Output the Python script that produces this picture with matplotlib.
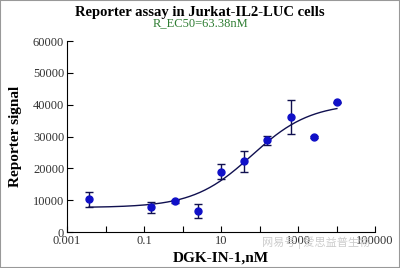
import numpy as np
import matplotlib
matplotlib.use("Agg")
import matplotlib.pyplot as plt

# Data
conc = [0.0037, 0.156, 0.625, 2.5, 10, 40, 160, 640, 2560, 10240]
signal = [10300, 7800, 9700, 6500, 19000, 22300, 28800, 36200, 29800, 40700]
err = [2400, 1700, 500, 2200, 2300, 3300, 1500, 5300, 300, 300]

# 4PL fit parameters
bottom, top, ec50, hill = 7700, 40500, 63.38, 0.57

plt.rcParams["font.family"] = ["Liberation Serif", "DejaVu Serif"]

fig = plt.figure(figsize=(4, 2.68), dpi=100)
ax = fig.add_axes([0.1675, 0.134, 0.77, 0.713])

xs = np.logspace(np.log10(conc[0]), np.log10(conc[-1]), 200)
fit = bottom + (top - bottom) / (1 + (ec50 / xs) ** hill)
ax.plot(xs, fit, color="#101050", lw=1)

ax.errorbar(conc, signal, yerr=err, fmt="o", color="#1010c8", ms=5,
            ecolor="#101050", elinewidth=1, capsize=3, capthick=1)

ax.set_xscale("log")
ax.set_xlim(0.001, 100000)
ax.set_ylim(0, 60000)
ax.set_xticks([1e-3, 1e-1, 1e1, 1e3, 1e5])
ax.set_xticklabels(["0.001", "0.1", "10", "1000", "100000"])
ax.set_xticks([1e-2, 1e0, 1e2, 1e4], minor=True)
ax.xaxis.set_minor_formatter(matplotlib.ticker.NullFormatter())
ax.set_yticks(range(0, 60001, 10000))
ax.tick_params(which="both", direction="in", length=4, width=0.8, labelsize=9, pad=2,
               labelcolor="#333333")
for side in ["top", "right"]:
    ax.spines[side].set_visible(False)

ax.set_xlabel("DGK-IN-1,nM", fontsize=11, fontweight="bold", labelpad=3)
ax.set_ylabel("Reporter signal", fontsize=11, fontweight="bold", labelpad=8)

fig.text(0.5, 0.955, "Reporter assay in Jurkat-IL2-LUC cells", ha="center", va="center",
         fontsize=10.5, fontweight="bold")
fig.text(0.5, 0.913, "R_EC50=63.38nM", ha="center", va="center", fontsize=9, color="#2e7d32")

fig.text(0.79, 0.095, "网易号 | 爱思益普生物", ha="center", va="center", fontsize=8,
         color="#cccccc", family=["Noto Sans CJK SC", "DejaVu Sans"])

fig.patches.append(plt.Rectangle((0, 0), 1, 1, transform=fig.transFigure, fill=False,
                                 edgecolor="#999999", lw=1.5))

fig.savefig("out.png", dpi=100)
